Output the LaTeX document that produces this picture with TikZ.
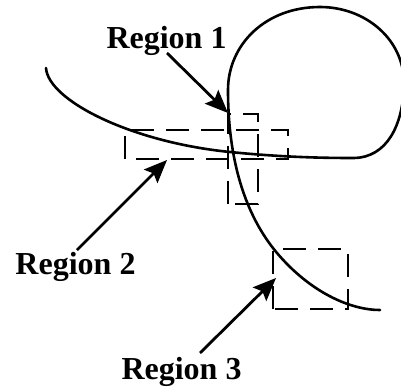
\documentclass[tikz,border=0pt]{standalone}
\usepackage{fontspec}
\setmainfont{Liberation Serif}
\usetikzlibrary{arrows.meta}
\begin{document}
\begin{tikzpicture}[x=1pt,y=-1pt,
  curveline/.style={line width=2.6pt,line cap=round},
  regionbox/.style={line width=2.8pt,dash pattern=on 23pt off 12pt},
  pointer/.style={line width=2.8pt,-{Stealth[length=23pt,width=19pt,inset=4pt]}},
  lbl/.style={font=\fontsize{32}{36}\selectfont\bfseries,anchor=base,inner sep=0pt}]
\useasboundingbox (0,0) rectangle (401,388);

% the self-crossing curve with its loop
\draw[curveline] (46,68)
  .. controls (48,100) and (130,142) .. (230,152)
  .. controls (280,157) and (320,158) .. (353,158)
  .. controls (387,158) and (403,125) .. (404,85)
  .. controls (405,40) and (366,7) .. (320,7)
  .. controls (265,7) and (228,45) .. (228,90)
  .. controls (228,160) and (245,215) .. (277,253)
  .. controls (310,292) and (350,310) .. (380,310);

% dashed regions
\draw[regionbox] (228,204) rectangle (258,114);
\draw[regionbox] (125,159) rectangle (288,130);
\draw[regionbox] (273,309) rectangle (348,249);

% labels
\node[lbl] (r1) at (166.5,48) {Region 1};
\node[lbl] (r2) at (75.5,274) {Region 2};
\node[lbl] (r3) at (181.5,379) {Region 3};

% arrow ends
\coordinate (s1) at (167,53);
\coordinate (e1) at (228,113);
\coordinate (s2) at (77,250);
\coordinate (e2) at (167,160);
\coordinate (s3) at (200,353);
\coordinate (e3) at (276,278);

\draw[pointer] (s1) -- (e1);
\draw[pointer] (s2) -- (e2);
\draw[pointer] (s3) -- (e3);
\end{tikzpicture}
\end{document}
